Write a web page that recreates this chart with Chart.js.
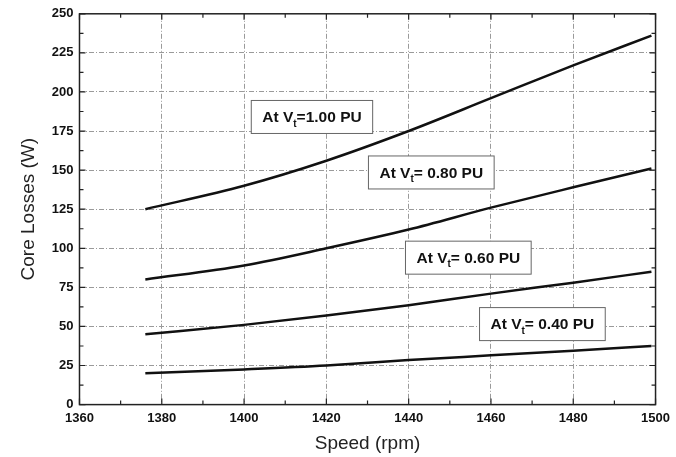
<!DOCTYPE html>
<html>
<head>
<meta charset="utf-8">
<script src="https://cdn.jsdelivr.net/npm/chart.js@4.4.1/dist/chart.umd.min.js"></script>
<style>
  body { margin: 0; background: #fff; }
  #wrap { width: 676px; height: 457px; }
</style>
</head>
<body>
<div id="wrap"><canvas id="lossChart"></canvas></div>
<script>
// speeds (rpm)
const speed = [1376, 1400, 1420, 1440, 1460, 1480, 1499];
// core losses (W) for each terminal voltage
const loss100 = [125, 140, 156, 175, 196, 217, 236];
const loss080 = [80, 89, 100, 112, 126, 139, 151];
const loss060 = [45, 51, 57, 63.5, 71, 78, 85];
const loss040 = [20, 22.5, 25, 28.5, 31.5, 34.5, 37.5];
const seriesNames = ['1.00', '0.80', '0.60', '0.40'];
const xTicks = [1360, 1380, 1400, 1420, 1440, 1460, 1480, 1500];
const yTicks = [0, 25, 50, 75, 100, 125, 150, 175, 200, 225, 250];

function toPoints(ys) {
    return speed.map((s, i) => ({ x: s, y: ys[i] }));
}

// label boxes, placed in data units
const labelBoxes = [
    { x: 1416.5, y: 184, pre: 'At V', post: '=1.00 PU' },
    { x: 1445.5, y: 148.5, pre: 'At V', post: '= 0.80 PU' },
    { x: 1454.5, y: 94, pre: 'At V', post: '= 0.60 PU' },
    { x: 1472.5, y: 51.5, pre: 'At V', post: '= 0.40 PU' }
];

const FONT = '"Liberation Sans", Arial, sans-serif';

// frame, inward ticks on every side and the text boxes
const framePlugin = {
    id: 'frame',
    afterDatasetsDraw(chart) {
        const c = chart.ctx;
        const a = chart.chartArea;
        const xs = chart.scales.x, ys = chart.scales.y;
        c.save();
        c.strokeStyle = '#222';
        c.lineWidth = 1.5;
        c.strokeRect(a.left, a.top, a.right - a.left, a.bottom - a.top);
        c.lineWidth = 1.2;
        for (let v = 1360; v <= 1500; v += 10) {
            const px = xs.getPixelForValue(v);
            const len = (v % 20 === 0) ? 6 : 4;
            c.beginPath();
            c.moveTo(px, a.bottom); c.lineTo(px, a.bottom - len);
            c.moveTo(px, a.top); c.lineTo(px, a.top + len);
            c.stroke();
        }
        for (let v = 0; v <= 250; v += 12.5) {
            const py = ys.getPixelForValue(v);
            const len = (v % 25 === 0) ? 6 : 4;
            c.beginPath();
            c.moveTo(a.left, py); c.lineTo(a.left + len, py);
            c.moveTo(a.right, py); c.lineTo(a.right - len, py);
            c.stroke();
        }
        // boxes
        labelBoxes.forEach(b => {
            const cx = xs.getPixelForValue(b.x);
            const cy = ys.getPixelForValue(b.y);
            c.font = 'bold 15.5px ' + FONT;
            const w1 = c.measureText(b.pre).width;
            const w3 = c.measureText(b.post).width;
            c.font = 'bold 10px ' + FONT;
            const w2 = c.measureText('t').width;
            const tw = w1 + w2 + w3;
            const bw = tw + 22, bh = 33;
            c.fillStyle = '#fff';
            c.fillRect(cx - bw / 2, cy - bh / 2, bw, bh);
            c.strokeStyle = '#666';
            c.lineWidth = 1;
            c.strokeRect(cx - bw / 2, cy - bh / 2, bw, bh);
            c.fillStyle = '#111';
            c.textBaseline = 'middle';
            c.textAlign = 'left';
            let tx = cx - tw / 2;
            c.font = 'bold 15.5px ' + FONT;
            c.fillText(b.pre, tx, cy + 1);
            tx += w1;
            c.font = 'bold 10px ' + FONT;
            c.fillText('t', tx, cy + 7);
            tx += w2;
            c.font = 'bold 15.5px ' + FONT;
            c.fillText(b.post, tx, cy + 1);
        });
        c.restore();
    }
};

const ctx = document.getElementById('lossChart');
const allSeries = [loss100, loss080, loss060, loss040];

new Chart(ctx, {
    type: 'line',
    data: {
        datasets: allSeries.map((ys, i) => ({
            label: 'At Vt=' + seriesNames[i] + ' PU',
            data: toPoints(ys),
            borderColor: '#111',
            borderWidth: 2.5,
            pointRadius: 0,
            cubicInterpolationMode: 'monotone',
            fill: false
        }))
    },
    options: {
        responsive: true,
        maintainAspectRatio: false,
        animation: false,
        layout: { padding: { top: 8, right: 6, left: 17, bottom: 0 } },
        plugins: {
            legend: { display: false },
            tooltip: { enabled: false }
        },
        scales: {
            x: {
                type: 'linear',
                min: 1360,
                max: 1500,
                afterBuildTicks: axis => { axis.ticks = xTicks.map(v => ({ value: v })); },
                grid: {
                    color: ctx => (ctx.tick && (ctx.tick.value === 1360 || ctx.tick.value === 1500)) ? 'rgba(0,0,0,0)' : '#9a9a9a',
                    lineWidth: 1,
                    drawTicks: false
                },
                border: { display: false, dash: [5, 2, 1, 2] },
                ticks: {
                    color: '#111',
                    padding: 6,
                    callback: v => String(v),
                    font: { family: FONT, size: 13, weight: 'bold' }
                },
                title: {
                    display: true,
                    text: 'Speed (rpm)',
                    color: '#222',
                    padding: { top: 0, bottom: 2 },
                    font: { family: FONT, size: 19 }
                }
            },
            y: {
                min: 0,
                max: 250,
                afterBuildTicks: axis => { axis.ticks = yTicks.map(v => ({ value: v })); },
                grid: {
                    color: ctx => (ctx.tick && (ctx.tick.value === 0 || ctx.tick.value === 250)) ? 'rgba(0,0,0,0)' : '#9a9a9a',
                    lineWidth: 1,
                    drawTicks: false
                },
                border: { display: false, dash: [5, 2, 1, 2] },
                ticks: {
                    color: '#111',
                    padding: 6,
                    callback: v => String(v),
                    font: { family: FONT, size: 13, weight: 'bold' }
                },
                title: {
                    display: true,
                    text: 'Core Losses (W)',
                    color: '#222',
                    padding: { top: 0, bottom: 6 },
                    font: { family: FONT, size: 19 }
                }
            }
        }
    },
    plugins: [framePlugin]
});
</script>
</body>
</html>
